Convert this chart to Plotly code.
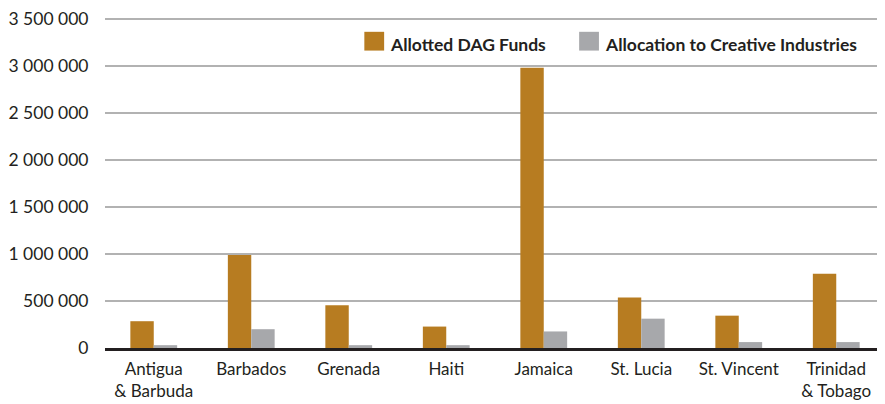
import plotly.graph_objects as go

countries = ["Antigua<br>& Barbuda", "Barbados", "Grenada", "Haiti", "Jamaica",
             "St. Lucia", "St. Vincent", "Trinidad<br>& Tobago"]
allotted = [285000, 990000, 455000, 228000, 2980000, 537000, 344000, 790000]
creative = [30000, 200000, 30000, 30000, 176000, 312000, 63000, 63000]
series_names = ["Allotted DAG Funds", "Allocation to Creative Industries"]
y_ticks = [0, 500000, 1000000, 1500000, 2000000, 2500000, 3000000, 3500000]

orange = "#B77C21"
grey = "#A7A8AB"
txt = "#231F20"
font = "Lato, 'Open Sans', sans-serif"

# page has an 8px body margin; plot area target: x 97..885, 0 at y=348, 3.5M at y=15
L, T, B = 89, 4, 56
W, H = 877, 396
pw, ph = W - L, H - T - B
y_top = 3500000 * ph / 333.0

fig = go.Figure()
fig.add_trace(go.Bar(x=countries, y=allotted, name=series_names[0],
                     marker=dict(color=orange, line=dict(width=0))))
fig.add_trace(go.Bar(x=countries, y=creative, name=series_names[1],
                     marker=dict(color=grey, line=dict(width=0))))

fig.update_layout(
    width=W, height=H,
    margin=dict(l=L, r=0, t=T, b=B),
    paper_bgcolor="white", plot_bgcolor="white",
    barmode="group", bargap=0.52, bargroupgap=0,
    separators=". ",
    showlegend=False,
    font=dict(family=font, size=17, color=txt),
)
fig.update_yaxes(range=[0, y_top], tickvals=y_ticks, tickformat=",d",
                 showgrid=True, gridcolor="#B2B2B2", gridwidth=1.5,
                 zeroline=False, showline=False, ticklabeloverflow="allow",
                 ticks="outside", ticklen=12, tickcolor="rgba(0,0,0,0)",
                 tickfont=dict(family=font, size=17.5, color=txt))
fig.update_xaxes(showline=True, linecolor=txt, linewidth=2.5,
                 showgrid=False, ticks="", ticklabelstandoff=4,
                 tickfont=dict(family=font, size=17, color=txt))

# custom legend (symbols + text), positions in page pixels
legend_items = [(series_names[0], orange, 359), (series_names[1], grey, 576)]
def px_x(x):
    return (x - 8 - L) / pw
def px_y(y):
    return (8 + T + ph - y) / ph
for name, col, x0 in legend_items:
    fig.add_shape(type="rect", xref="paper", yref="paper",
                  x0=px_x(x0), x1=px_x(x0 + 20),
                  y0=px_y(47), y1=px_y(28),
                  fillcolor=col, line=dict(width=0))
    fig.add_annotation(text="<b>" + name + "</b>", xref="paper", yref="paper",
                       x=px_x(x0 + 24), y=px_y(41),
                       xanchor="left", yanchor="middle", showarrow=False,
                       font=dict(family=font, size=17.5, color=txt))

fig.write_html("out.html")
